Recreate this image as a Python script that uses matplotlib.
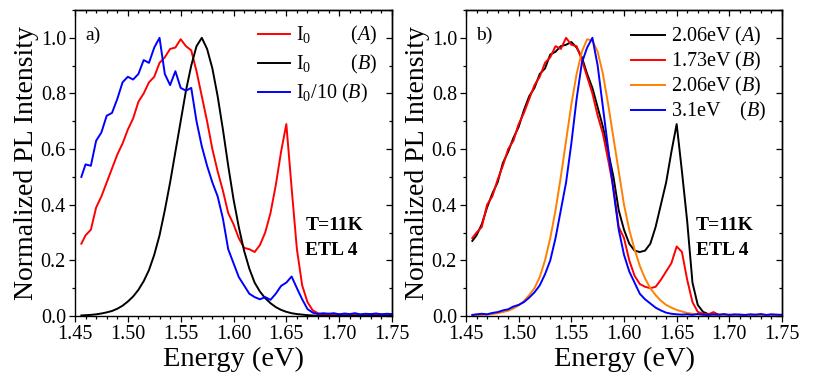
import matplotlib
matplotlib.use("Agg")
import matplotlib.pyplot as plt
from matplotlib.ticker import MultipleLocator

plt.rcParams['font.family'] = ['Liberation Serif', 'DejaVu Serif']
plt.rcParams['mathtext.fontset'] = 'custom'
plt.rcParams['mathtext.rm'] = 'Liberation Serif'
plt.rcParams['mathtext.it'] = 'Liberation Serif:italic'
plt.rcParams['mathtext.bf'] = 'Liberation Serif:bold'

energy = [1.456, 1.460, 1.465, 1.470, 1.475, 1.480, 1.485, 1.490, 1.495, 1.500,
          1.505, 1.510, 1.515, 1.520, 1.525, 1.530, 1.535, 1.540, 1.545, 1.550,
          1.555, 1.560, 1.565, 1.570, 1.575, 1.580, 1.585, 1.590, 1.595, 1.600,
          1.605, 1.610, 1.615, 1.620, 1.625, 1.630, 1.635, 1.640, 1.645, 1.650,
          1.655, 1.660, 1.665, 1.670, 1.675, 1.680, 1.685, 1.690, 1.695, 1.700,
          1.705, 1.710, 1.715, 1.720, 1.725, 1.730, 1.735, 1.740, 1.745, 1.750]

# panel a
a_I0_A = [0.26, 0.29, 0.31, 0.39, 0.43, 0.48, 0.53, 0.58, 0.62, 0.67,
          0.71, 0.77, 0.80, 0.84, 0.86, 0.91, 0.93, 0.96, 0.965, 0.995,
          0.97, 0.955, 0.88, 0.79, 0.70, 0.60, 0.52, 0.45, 0.37, 0.33,
          0.28, 0.245, 0.24, 0.23, 0.255, 0.30, 0.37, 0.47, 0.59, 0.69,
          0.46, 0.24, 0.11, 0.05, 0.02, 0.01, 0.006, 0.008, 0.005, 0.006,
          0.004, 0.006, 0.005, 0.004, 0.006, 0.005, 0.004, 0.006, 0.005, 0.004]
a_I0_B = [0.002, 0.003, 0.004, 0.006, 0.009, 0.013, 0.018, 0.026, 0.037, 0.052,
          0.070, 0.094, 0.125, 0.165, 0.22, 0.29, 0.38, 0.48, 0.59, 0.70,
          0.81, 0.90, 0.97, 1.00, 0.96, 0.89, 0.79, 0.67, 0.54, 0.42,
          0.32, 0.235, 0.17, 0.12, 0.088, 0.064, 0.046, 0.032, 0.022, 0.015,
          0.010, 0.007, 0.005, 0.003, 0.002, 0.001, 0.001, 0.0, 0.0, 0.0,
          0.0, 0.0, 0.0, 0.0, 0.0, 0.0, 0.0, 0.0, 0.0, 0.0]
a_I0_10_B = [0.50, 0.545, 0.54, 0.63, 0.66, 0.72, 0.73, 0.78, 0.84, 0.86,
             0.85, 0.87, 0.92, 0.91, 0.965, 1.00, 0.87, 0.83, 0.88, 0.82,
             0.81, 0.82, 0.70, 0.61, 0.54, 0.48, 0.43, 0.35, 0.24, 0.19,
             0.14, 0.11, 0.08, 0.068, 0.06, 0.068, 0.058, 0.08, 0.108, 0.12,
             0.142, 0.10, 0.06, 0.025, 0.012, 0.007, 0.010, 0.008, 0.010, 0.006,
             0.009, 0.007, 0.010, 0.006, 0.008, 0.007, 0.009, 0.006, 0.008, 0.007]

# panel b
b_206_A = [0.27, 0.29, 0.33, 0.39, 0.44, 0.48, 0.55, 0.59, 0.64, 0.68,
           0.74, 0.79, 0.82, 0.87, 0.89, 0.94, 0.95, 0.97, 0.975, 0.985,
           0.965, 0.93, 0.87, 0.82, 0.75, 0.68, 0.59, 0.50, 0.38, 0.31,
           0.26, 0.235, 0.23, 0.235, 0.26, 0.32, 0.40, 0.48, 0.59, 0.69,
           0.52, 0.34, 0.12, 0.04, 0.015, 0.007, 0.005, 0.004, 0.003, 0.004,
           0.003, 0.004, 0.003, 0.004, 0.003, 0.004, 0.003, 0.004, 0.003, 0.004]
b_173_B = [0.28, 0.30, 0.32, 0.40, 0.43, 0.49, 0.54, 0.60, 0.63, 0.69,
           0.73, 0.78, 0.83, 0.86, 0.91, 0.93, 0.97, 0.96, 1.00, 0.975,
           0.97, 0.92, 0.86, 0.80, 0.72, 0.655, 0.56, 0.46, 0.32, 0.28,
           0.20, 0.145, 0.115, 0.105, 0.10, 0.105, 0.13, 0.16, 0.19, 0.25,
           0.23, 0.13, 0.05, 0.015, 0.008, 0.006, 0.014, 0.004, 0.003, 0.004,
           0.003, 0.004, 0.003, 0.004, 0.003, 0.004, 0.003, 0.004, 0.003, 0.004]
b_206_B = [0.002, 0.003, 0.004, 0.005, 0.007, 0.010, 0.014, 0.019, 0.027, 0.038,
           0.054, 0.075, 0.10, 0.14, 0.20, 0.28, 0.38, 0.50, 0.63, 0.76,
           0.87, 0.95, 0.995, 0.99, 0.95, 0.87, 0.76, 0.64, 0.52, 0.40,
           0.31, 0.24, 0.18, 0.135, 0.10, 0.075, 0.055, 0.04, 0.03, 0.022,
           0.016, 0.011, 0.008, 0.006, 0.004, 0.003, 0.002, 0.002, 0.001, 0.001,
           0.001, 0.001, 0.001, 0.001, 0.001, 0.001, 0.001, 0.001, 0.001, 0.001]
b_31_B = [0.004, 0.006, 0.008, 0.006, 0.011, 0.014, 0.020, 0.024, 0.034, 0.040,
          0.050, 0.066, 0.085, 0.11, 0.15, 0.20, 0.28, 0.38, 0.48, 0.62,
          0.78, 0.91, 0.965, 1.00, 0.90, 0.75, 0.60, 0.45, 0.31, 0.22,
          0.16, 0.12, 0.08, 0.06, 0.045, 0.03, 0.02, 0.012, 0.008, 0.006,
          0.005, 0.006, 0.004, 0.007, 0.005, 0.004, 0.006, 0.005, 0.007, 0.004,
          0.006, 0.005, 0.004, 0.006, 0.005, 0.007, 0.004, 0.006, 0.005, 0.004]

RED, BLACK, BLUE, ORANGE = '#ff0000', '#000000', '#0000ff', '#ff8000'
LW = 1.4

fig = plt.figure(figsize=(8.3, 3.85), dpi=100)
ax_a = fig.add_axes([75/830, 1-316/385, 317/830, 306/385])
ax_b = fig.add_axes([466/830, 1-316/385, 316/830, 306/385])


def style(ax):
    ax.set_xlim(1.45, 1.75)
    ax.set_ylim(0, 1.1)
    ax.xaxis.set_major_locator(MultipleLocator(0.05))
    ax.xaxis.set_minor_locator(MultipleLocator(0.01))
    ax.yaxis.set_major_locator(MultipleLocator(0.2))
    ax.yaxis.set_minor_locator(MultipleLocator(0.1))
    ax.set_xticks([1.45, 1.50, 1.55, 1.60, 1.65, 1.70, 1.75])
    ax.set_xticklabels(['1.45', '1.50', '1.55', '1.60', '1.65', '1.70', '1.75'])
    ax.set_yticks([0.0, 0.2, 0.4, 0.6, 0.8, 1.0])
    ax.set_yticklabels(['0.0', '0.2', '0.4', '0.6', '0.8', '1.0'])
    ax.tick_params(which='both', direction='out', top=False, right=False,
                   labelsize=14.5, width=0.9, pad=2)
    ax.tick_params(which='major', length=4.5)
    ax.tick_params(which='minor', length=2.5)
    for s in ax.spines.values():
        s.set_linewidth(1.0)
    sx = ax.secondary_xaxis('top')
    sx.xaxis.set_major_locator(MultipleLocator(0.05))
    sx.xaxis.set_minor_locator(MultipleLocator(0.01))
    sx.tick_params(which='both', direction='in', labeltop=False, width=0.9)
    sx.tick_params(which='major', length=4.5)
    sx.tick_params(which='minor', length=2.5)
    sx.spines['top'].set_linewidth(1.0)
    sy = ax.secondary_yaxis('right')
    sy.yaxis.set_major_locator(MultipleLocator(0.2))
    sy.yaxis.set_minor_locator(MultipleLocator(0.1))
    sy.tick_params(which='both', direction='in', labelright=False, width=0.9)
    sy.tick_params(which='major', length=4.5)
    sy.tick_params(which='minor', length=2.5)
    sy.spines['right'].set_linewidth(1.0)
    ax.set_xlabel('Energy (eV)', fontsize=20.5, labelpad=2)
    ax.set_ylabel('Normalized PL Intensity', fontsize=20, labelpad=1)
    ax.text(1.668, 0.325, 'T=11K', fontsize=14, fontweight='bold', va='center')
    ax.text(1.668, 0.235, 'ETL 4', fontsize=14, fontweight='bold', va='center')


# panel a
ax_a.plot(energy, a_I0_A, color=RED, lw=LW, label=r'$\mathrm{I_0}$' + '        ' + r'$\mathit{(A)}$')
ax_a.plot(energy, a_I0_B, color=BLACK, lw=LW, label=r'$\mathrm{I_0}$' + '        ' + r'$\mathit{(B)}$')
ax_a.plot(energy, a_I0_10_B, color=BLUE, lw=LW, label=r'$\mathrm{I_0}$/10 ' + r'$\mathit{(B)}$')
style(ax_a)
ax_a.text(1.46, 1.01, 'a)', fontsize=14, va='center')
ax_a.legend(loc='upper right', frameon=False, fontsize=14.5, handlelength=1.6,
            handletextpad=0.3, borderaxespad=0.6, labelspacing=0.3, borderpad=0.1)

# panel b
ax_b.plot(energy, b_206_A, color=BLACK, lw=LW, label='2.06eV ' + r'$\mathit{(A)}$')
ax_b.plot(energy, b_173_B, color=RED, lw=LW, label='1.73eV ' + r'$\mathit{(B)}$')
ax_b.plot(energy, b_206_B, color=ORANGE, lw=LW, label='2.06eV ' + r'$\mathit{(B)}$')
ax_b.plot(energy, b_31_B, color=BLUE, lw=LW, label='3.1eV    ' + r'$\mathit{(B)}$')
style(ax_b)
ax_b.text(1.46, 1.01, 'b)', fontsize=14, va='center')
ax_b.legend(loc='upper right', frameon=False, fontsize=14.5, handlelength=1.7,
            handletextpad=0.3, borderaxespad=0.65, labelspacing=0.1, borderpad=0.1)

fig.savefig('out.png', dpi=100)
